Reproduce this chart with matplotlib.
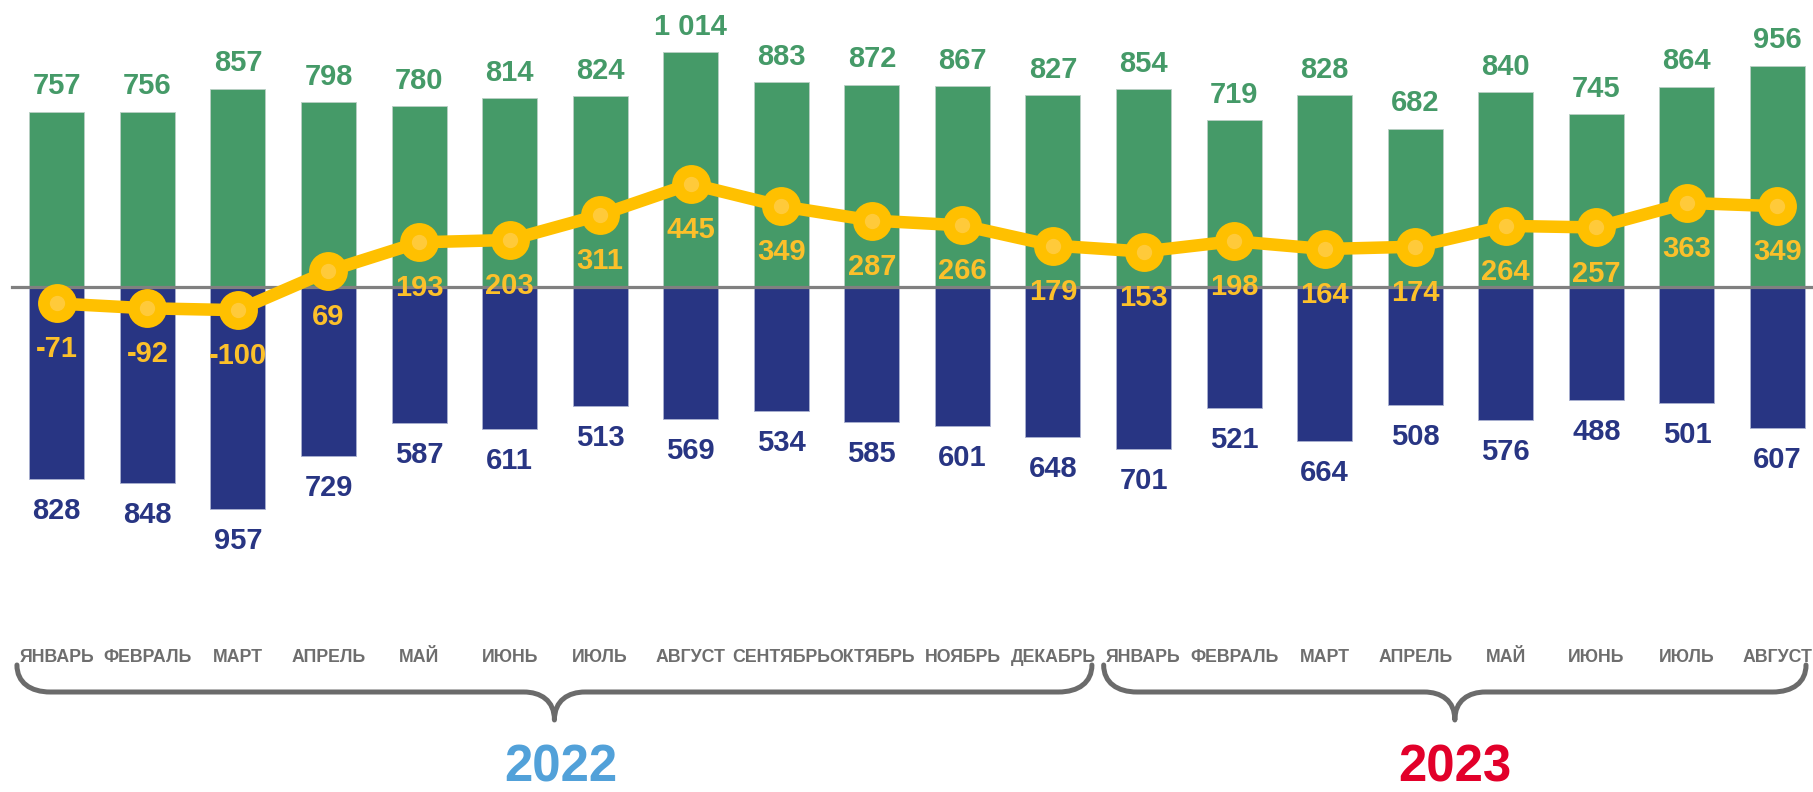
import matplotlib
matplotlib.use("Agg")
import matplotlib.pyplot as plt
from matplotlib.path import Path
from matplotlib.patches import PathPatch


# ── Data ──────────────────────────────────────────────────────────────────────

MONTHS = [
    "ЯНВАРЬ", "ФЕВРАЛЬ", "МАРТ", "АПРЕЛЬ", "МАЙ", "ИЮНЬ", "ИЮЛЬ", "АВГУСТ",
    "СЕНТЯБРЬ", "ОКТЯБРЬ", "НОЯБРЬ", "ДЕКАБРЬ",
    "ЯНВАРЬ", "ФЕВРАЛЬ", "МАРТ", "АПРЕЛЬ", "МАЙ", "ИЮНЬ", "ИЮЛЬ", "АВГУСТ",
]
UPPER = [757, 756, 857, 798, 780, 814, 824, 1014, 883, 872, 867, 827,
         854, 719, 828, 682, 840, 745, 864, 956]
LOWER = [828, 848, 957, 729, 587, 611, 513, 569, 534, 585, 601, 648,
         701, 521, 664, 508, 576, 488, 501, 607]
BALANCE = [-71, -92, -100, 69, 193, 203, 311, 445, 349, 287, 266, 179,
           153, 198, 164, 174, 264, 257, 363, 349]
YEARS = ["2022", "2023"]
YEAR_SIZES = [12, 8]

# ── Style ─────────────────────────────────────────────────────────────────────

GREEN = "#459a68"
NAVY = "#283583"
GOLD = "#ffc000"
GOLD_DOT = "#ffca3a"
GOLD_TEXT = "#fcc02a"
MONTH_GRAY = "#6e6e6e"
BRACE_GRAY = "#6b6b6b"
YEAR_COLORS = ["#52a1d9", "#e2002a"]

W, H = 1813, 792
ZERO_PX = 287.0        # pixel row of zero line
PX_PER_UNIT = 0.2316   # vertical scale
X0_PX = 56.8           # centre of first bar
STEP_PX = 90.56        # bar spacing

plt.rcParams["font.family"] = ["Liberation Sans", "DejaVu Sans"]
plt.rcParams["font.weight"] = "bold"


def fmt(v):
    return f"{v:,}".replace(",", "\u00a0")


def fy(py):
    # pixel row (from top) -> axes fraction
    return 1 - py / H


fig = plt.figure(figsize=(W / 100, H / 100), dpi=100)
ax = fig.add_axes([0, 0, 1, 1])
ax.set_xlim(-X0_PX / STEP_PX, (W - X0_PX) / STEP_PX)
ax.set_ylim(-(H - ZERO_PX) / PX_PER_UNIT, ZERO_PX / PX_PER_UNIT)
ax.axis("off")

x = list(range(len(MONTHS)))
bw = 55 / STEP_PX

ax.bar(x, UPPER, width=bw, color=GREEN, edgecolor="#b9cfc4", linewidth=0.6, zorder=2)
ax.bar(x, [-v for v in LOWER], width=bw, color=NAVY, edgecolor="#a9b0d0",
       linewidth=0.6, zorder=2)

ax.axhline(0, xmin=12 / W, xmax=1, color="#808080", lw=2.3, zorder=3)

ax.plot(x, BALANCE, color=GOLD, lw=9, marker="o", ms=28, mfc=GOLD, mew=0,
        solid_capstyle="round", zorder=4)
ax.plot(x, BALANCE, ls="none", marker="o", ms=11, mfc=GOLD_DOT, mew=0, zorder=5)

for i in x:
    ax.annotate(fmt(UPPER[i]), (i, UPPER[i]), xytext=(0, 12.7),
                textcoords="offset points", ha="center", va="baseline",
                fontsize=21, fontweight="bold", color=GREEN, zorder=6)
    ax.annotate(fmt(LOWER[i]), (i, -LOWER[i]), xytext=(0, -28.8),
                textcoords="offset points", ha="center", va="baseline",
                fontsize=21, fontweight="bold", color=NAVY, zorder=6)
    ax.annotate(fmt(BALANCE[i]), (i, BALANCE[i]), xytext=(0, -38.9),
                textcoords="offset points", ha="center", va="baseline",
                fontsize=21, fontweight="bold", color=GOLD_TEXT, zorder=6)

# month labels
xtrans = ax.get_xaxis_transform()
for i, m in enumerate(MONTHS):
    ax.text(i, fy(657), m, transform=xtrans, ha="center", va="center",
            fontsize=12.8, fontweight="bold", color=MONTH_GRAY)

# braces + year labels
right_lim = (W - 7 - X0_PX) / STEP_PX
y_end, y_h, y_tip = fy(665), fy(692), fy(720)
r1, r2 = 0.37, 0.34
year_nudge = [0.07, 0.0]
start = 0
for year, n, col, dx in zip(YEARS, YEAR_SIZES, YEAR_COLORS, year_nudge):
    a = start - 0.44
    b = min(start + n - 1 + 0.43, right_lim)
    m = (a + b) / 2
    verts = [
        (a, y_end),
        (a, y_h + (y_end - y_h) * 0.35), (a + r1 * 0.4, y_h), (a + r1, y_h),
        (m - r2, y_h),
        (m - r2 * 0.45, y_h), (m, y_h - (y_h - y_tip) * 0.3), (m, y_tip),
        (m, y_h - (y_h - y_tip) * 0.3), (m + r2 * 0.45, y_h), (m + r2, y_h),
        (b - r1, y_h),
        (b - r1 * 0.4, y_h), (b, y_h + (y_end - y_h) * 0.35), (b, y_end),
    ]
    codes = [Path.MOVETO,
             Path.CURVE4, Path.CURVE4, Path.CURVE4,
             Path.LINETO,
             Path.CURVE4, Path.CURVE4, Path.CURVE4,
             Path.CURVE4, Path.CURVE4, Path.CURVE4,
             Path.LINETO,
             Path.CURVE4, Path.CURVE4, Path.CURVE4]
    ax.add_patch(PathPatch(Path(verts, codes), transform=xtrans, fill=False,
                           edgecolor=BRACE_GRAY, lw=3.6, capstyle="round",
                           joinstyle="round", clip_on=False))
    ax.text(m + dx, fy(768.5), year, transform=xtrans, ha="center", va="center",
            fontsize=36.7, fontweight="bold", color=col)
    start += n

fig.savefig("out.png", dpi=100, facecolor="white")
